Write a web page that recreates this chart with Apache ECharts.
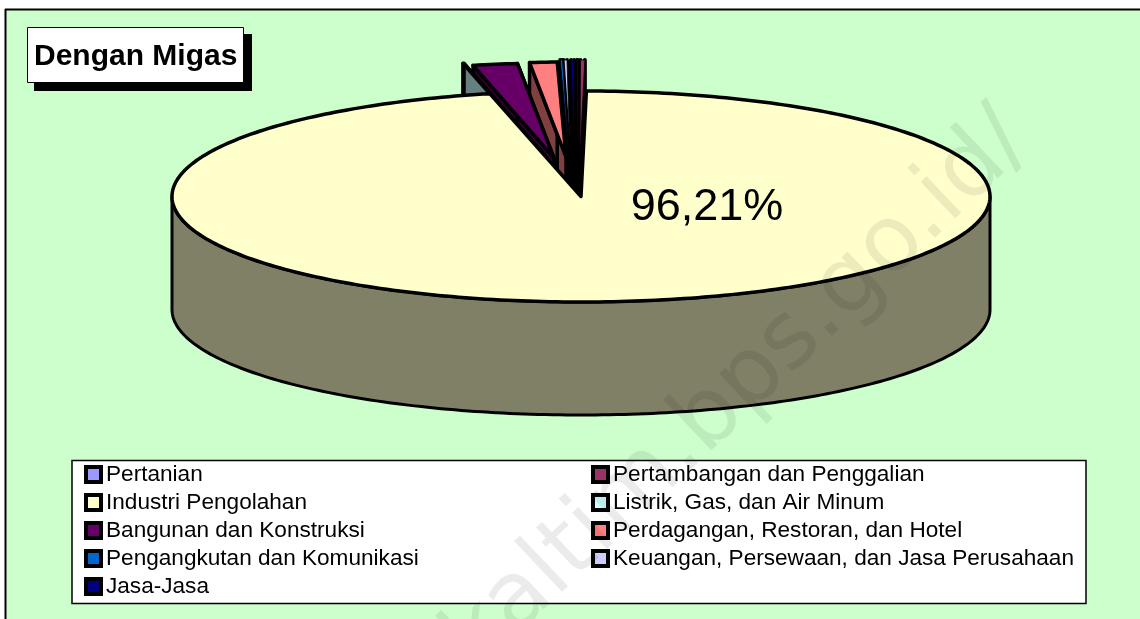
<!DOCTYPE html>
<html>
<head>
<meta charset="utf-8">
<style>html,body{margin:0;padding:0;background:#fff}#c{width:1140px;height:619px}</style>
<script src="https://cdn.jsdelivr.net/npm/echarts@6/dist/echarts.min.js"></script>
</head>
<body>
<div id="c"></div>
<script>
// ---- data (percent shares, clockwise from 12 o'clock) ----
const categories = ['Pertanian','Pertambangan dan Penggalian','Industri Pengolahan','Listrik, Gas, dan Air Minum','Bangunan dan Konstruksi','Perdagangan, Restoran, dan Hotel','Pengangkutan dan Komunikasi','Keuangan, Persewaan, dan Jasa Perusahaan','Jasa-Jasa'];
const shares = [0.02, 0.19, 96.21, 0.05, 1.95, 1.20, 0.10, 0.15, 0.13];
const topColors = ['#9999FF','#993366','#FFFFCC','#CCFFFF','#660066','#FF8080','#0066CC','#CCCCFF','#000080'];
const wallColors = ['#4D4D80','#4D1A33','#808066','#668080','#330033','#804040','#003366','#666680','#000040'];
const legendLeft = [0,2,4,6,8];
const legendRight = [1,3,5,7];

// ---- layout of the exploded pie ----
const PIE = {cx:581, cy:196.5, rx:409, ry:105.5, depth:113};
const smallScale = 0.9;
const explodeCentre = {3:[545,156],4:[554,158],5:[566,157],6:[569,155],7:[570,155],8:[574,155],0:[577,155],1:[580,155]};
const narrow = [0,1,6,7,8];
const drawOrder = [1,0,8,7,6,5,4,3,2];

let acc = 0;
const spans = shares.map(v => { const s = acc; acc += v; return [s*3.6,(s+v)*3.6]; });
const pt = (c,deg) => { const a = deg*Math.PI/180; return [c.cx+c.rx*Math.sin(a), c.cy-c.ry*Math.cos(a)]; };
function arc(c,a,b){ const n=Math.max(2,Math.ceil(Math.abs(b-a)/1)); const o=[]; for(let i=0;i<=n;i++) o.push(pt(c,a+(b-a)*i/n)); return o; }

function placement(i){
  if(i===2) return PIE;
  const e = explodeCentre[i];
  return {cx:e[0], cy:e[1], rx:PIE.rx*smallScale, ry:PIE.ry*smallScale, depth:PIE.depth};
}
function renderSlice(i, api){
  const c = placement(i), sp = spans[i], kids = [];
  const isNarrow = narrow.includes(i);
  const poly = (points,fill,lw) => ({type:'polygon', shape:{points}, style:{fill, stroke:'#000', lineWidth:lw, lineJoin:'round'}});
  if(i===2){
    const top = arc(c,90,270);
    const bot = top.slice().reverse().map(p=>[p[0],p[1]+c.depth]);
    kids.push(poly(top.concat(bot), wallColors[i], 3));
  } else {
    [sp[0],sp[1]].forEach(d=>{
      const p = pt(c,d);
      kids.push(poly([[c.cx,c.cy],p,[p[0],p[1]+c.depth],[c.cx,c.cy+c.depth]], isNarrow?'#000':wallColors[i], isNarrow?4:3.5));
    });
  }
  kids.push(poly([[c.cx,c.cy]].concat(arc(c,sp[0],sp[1])), topColors[i], isNarrow?0.8:3.5));
  if(i===2){
    kids.push({type:'text', style:{x:707,y:208,text:api.value(0).toFixed(2).replace('.',',')+'%',fill:'#000',font:'45px "Liberation Sans"',align:'center',verticalAlign:'middle'}});
  }
  return {type:'group',children:kids};
}

const series = categories.map((name,i)=>({
  type:'custom', name, coordinateSystem:'none', silent:true,
  z: 5+drawOrder.indexOf(i),
  itemStyle:{color:topColors[i]},
  data:[[shares[i]]],
  renderItem:(p,api)=>renderSlice(i,api)
}));

const legendBase = {
  orient:'vertical', top:463, itemWidth:15, itemHeight:15, itemGap:5, padding:0,
  selectedMode:false, z:50, icon:'rect',
  itemStyle:{borderColor:'#000',borderWidth:4},
  textStyle:{fontFamily:'Liberation Sans',fontSize:22.6,color:'#000',lineHeight:22}
};

const chart = echarts.init(document.getElementById('c'),null,{renderer:'canvas'});
chart.setOption({
  animation:false,
  backgroundColor:'#fff',
  title:{text:'Dengan Migas',left:34,top:42,padding:0,z:60,textStyle:{fontFamily:'Liberation Sans',fontWeight:'bold',fontSize:30,color:'#000'}},
  legend:[
    Object.assign({},legendBase,{left:84,data:legendLeft.map(i=>categories[i])}),
    Object.assign({},legendBase,{left:591,data:legendRight.map(i=>categories[i])})
  ],
  series,
  graphic:[
    {type:'rect',z:0,shape:{x:6,y:10,width:1134,height:609},style:{fill:'#CCFFCC'}},
    {type:'line',z:1,shape:{x1:5.5,y1:9,x2:5.5,y2:619},style:{stroke:'#000',lineWidth:2}},
    {type:'line',z:1,shape:{x1:5,y1:9.5,x2:1140,y2:9.5},style:{stroke:'#000',lineWidth:2}},
    {type:'rect',z:49,shape:{x:72,y:460.5,width:1014,height:143},style:{fill:'#fff',stroke:'#000',lineWidth:1.5}},
    {type:'rect',z:58,shape:{x:34,y:34,width:218,height:57},style:{fill:'#000'}},
    {type:'rect',z:59,shape:{x:27.5,y:27.5,width:216,height:55},style:{fill:'#fff',stroke:'#000',lineWidth:1}},
    {type:'text',z:100,silent:true,x:1016,y:128,rotation:43.5*Math.PI/180,style:{text:'http://kaltim.bps.go.id/',fill:'rgba(0,0,0,0.08)',font:'92px "DejaVu Sans"',align:'right',verticalAlign:'middle'}}
  ]
});
</script>
</body>
</html>
